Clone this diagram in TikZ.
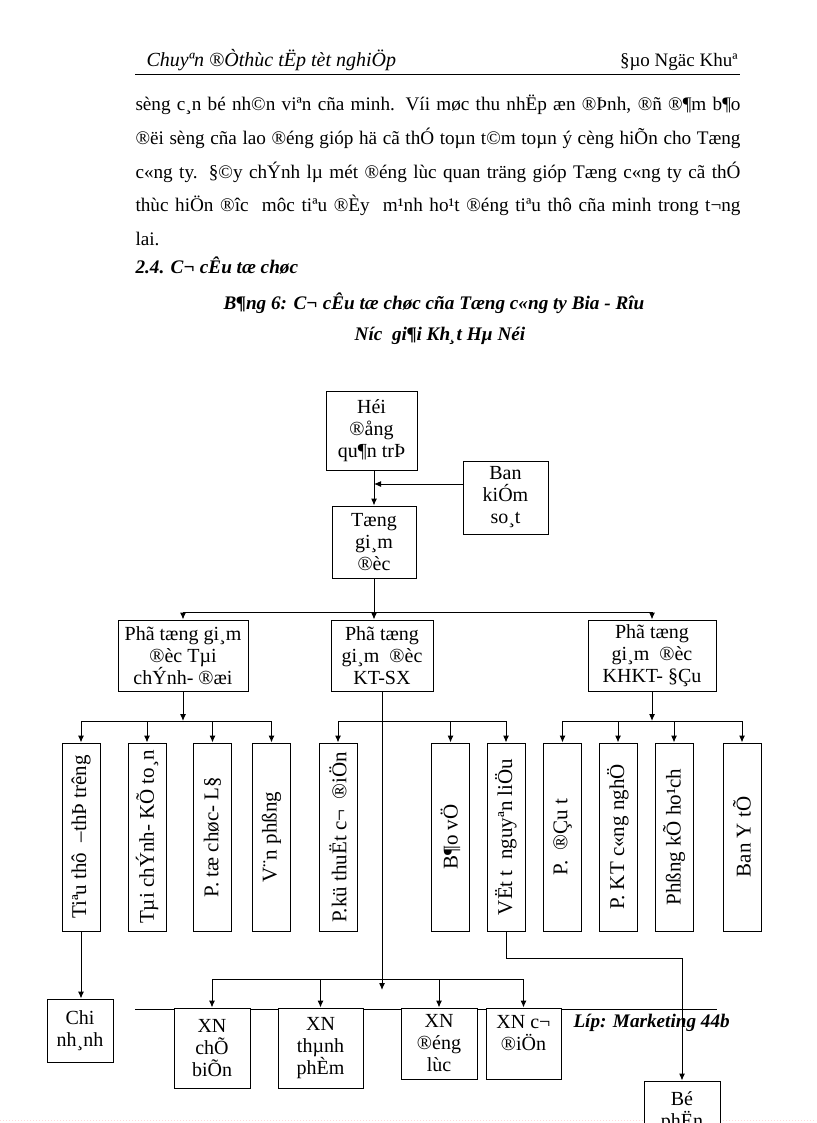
\documentclass[tikz,border=0pt]{standalone}
\usepackage{fontspec}
\setmainfont{Liberation Serif}
\usetikzlibrary{arrows.meta}
\newcommand\chuhop{\fontsize{20}{22}\selectfont}
\newcommand\chuvan{\fontsize{19.2}{34}\selectfont}
\tikzset{
  hop/.style={draw, fill=white, align=center, inner sep=0pt, font=\chuhop},
  dung/.style={hop, minimum width=38pt, minimum height=188pt, font=\fontsize{21}{22}\selectfont},
  van/.style={anchor=base west, inner sep=0pt, font=\chuvan},
  muiten/.style={-{Latex[length=7pt,width=6pt]}},
}
\begin{document}
\begin{tikzpicture}[x=1pt, y=-1pt, line width=1pt]
  \useasboundingbox (0,0) rectangle (816,1123);
  \clip (0,0) rectangle (816,1123);
  % dau trang
  \node[anchor=base west, inner sep=0pt, font=\fontsize{20}{22}\selectfont\itshape] (dau) at (146,67) {Chuyªn ®Òthùc tËp tèt nghiÖp};
  \node[anchor=base east, inner sep=0pt, font=\fontsize{19}{22}\selectfont] (tacgia) at (738,67) {§µo Ngäc Khuª};
  \draw[line width=0.6pt] (135,74) -- (740,74);
  % doan van
  \node[van] (d1) at (135,111) {\makebox[605pt][s]{sèng c¸n bé nh©n viªn cña minh. Víi møc thu nhËp æn ®Þnh, ®ñ ®¶m b¶o}};
  \node[van] (d2) at (135,145) {\makebox[605pt][s]{®ëi sèng cña lao ®éng gióp hä cã thÓ toµn t©m toµn ý cèng hiÕn cho Tæng}};
  \node[van] (d3) at (135,179) {\makebox[605pt][s]{c«ng ty. §©y chÝnh lµ mét ®éng lùc quan träng gióp Tæng c«ng ty cã thÓ}};
  \node[van] (d4) at (135,212) {\makebox[605pt][s]{thùc hiÖn ®îc \ môc tiªu ®Èy \ m¹nh ho¹t ®éng tiªu thô cña minh trong t¬ng}};
  \node[van] (d5) at (135,245) {lai.};
  \node[van, font=\chuvan\bfseries\itshape] (muc) at (135,273) {2.4. C¬ cÊu tæ chøc};
  \node[anchor=base, inner sep=0pt, font=\chuvan\bfseries\itshape] (bang1) at (434,309) {B¶ng 6: C¬ cÊu tæ chøc cña Tæng c«ng ty Bia - Rîu};
  \node[anchor=base, inner sep=0pt, font=\chuvan\bfseries\itshape] (bang2) at (440,340) {Níc \ gi¶i Kh¸t Hµ Néi};
  % chan trang
  \draw[line width=0.6pt] (135,1009) -- (717,1009);
  \node[anchor=base west, inner sep=0pt, font=\chuvan\bfseries\itshape] (lop) at (573,1027) {Líp: Marketing 44b};
  \draw[pink!60, dotted, line width=1pt] (0,1120) -- (816,1120);
  % cap tren
  \node[hop, minimum width=91pt, minimum height=79pt] (hdqt) at (371.5,430.5) {Héi\\®ång\\qu¶n trÞ};
  \node[hop, minimum width=85pt, minimum height=73pt] (bks) at (505.5,497.5) {Ban\\kiÓm\\so¸t};
  \node[hop, minimum width=84pt, minimum height=72pt] (tgd) at (374,542) {Tæng\\gi¸m\\®èc};
  \node[hop, minimum width=130pt, minimum height=71pt] (ptgd1) at (183,655.5) {Phã tæng gi¸m\\®èc Tµi\\chÝnh- ®æi};
  \node[hop, minimum width=102pt, minimum height=71pt] (ptgd2) at (382,655.5) {Phã tæng\\gi¸m \ ®èc\\KT-SX};
  \node[hop, minimum width=128pt, minimum height=71pt] (ptgd3) at (652,655.5) {Phã tæng\\gi¸m \ ®èc\\KHKT- §Çu};
  % cac phong ban
  \node[dung] (tt) at (81,837) {\rotatebox{90}{Tiªu thô \ –thÞ trêng}};
  \node[dung] (tc) at (147,837) {\rotatebox{90}{Tµi chÝnh- KÕ to¸n}};
  \node[dung] (tcld) at (212.5,837) {\rotatebox{90}{P. tæ chøc- L§}};
  \node[dung] (vp) at (271.5,837) {\rotatebox{90}{V¨n phßng}};
  \node[dung] (kt) at (338,837) {\rotatebox{90}{P.kü thuËt c¬ \ ®iÖn}};
  \node[dung] (bv) at (450.5,837) {\rotatebox{90}{B¶o vÖ}};
  \node[dung] (vt) at (506,837) {\rotatebox{90}{VËt t \ nguyªn liÖu}};
  \node[dung] (dt) at (562.5,837) {\rotatebox{90}{P. \ ®Çu t}};
  \node[dung] (ktcn) at (618,837) {\rotatebox{90}{P. KT c«ng nghÖ}};
  \node[dung] (kh) at (674,837) {\rotatebox{90}{Phßng kÕ ho¹ch}};
  \node[dung] (yt) at (742,837) {\rotatebox{90}{Ban Y tÕ}};
  % cap duoi
  \node[hop, minimum width=66pt, minimum height=63pt] (cn) at (80,1030.5) {Chi\\nh¸nh};
  \node[hop, minimum width=76pt, minimum height=80pt] (cb) at (212,1048) {XN\\chÕ\\biÕn};
  \node[hop, minimum width=85pt, minimum height=80pt] (tp) at (320.5,1048) {XN\\thµnh\\phÈm};
  \node[hop, minimum width=76pt, minimum height=71pt] (dl) at (439,1043.5) {XN\\®éng\\lùc};
  \node[hop, minimum width=75pt, minimum height=71pt] (cd) at (523.5,1043.5) {XN c¬\\®iÖn\\\mbox{}};
  \node[hop, minimum width=76pt, minimum height=79pt] (bp) at (682,1120.5) {Bé\\phËn\\\mbox{}};
  % duong noi
  \coordinate (ksvao) at (374,484);
  \coordinate (busA) at (374,612);
  \coordinate (busL) at (183,721);
  \coordinate (busM) at (382,721);
  \coordinate (busR) at (652,721);
  \coordinate (xnden) at (382,990);
  \coordinate (busX) at (382,979);
  \coordinate (vtre) at (506,958);
  \draw[muiten] (tgd.north |- hdqt.south) -- (tgd.north);
  \draw[muiten] (bks.west |- ksvao) -- (ksvao);
  \draw[muiten] (tgd.south) -- (tgd.south |- ptgd2.north);
  \draw (ptgd1.north |- busA) -- (ptgd3.north |- busA);
  \foreach \b in {ptgd1,ptgd3}
    \draw[muiten] (\b.north |- busA) -- (\b.north);
  \draw[muiten] (ptgd1.south) -- (busL);
  \draw (tt.north |- busL) -- (vp.north |- busL);
  \foreach \b in {tt,tc,tcld,vp}
    \draw[muiten] (\b.north |- busL) -- (\b.north);
  \draw (kt.north |- busM) -- (vt.north |- busM);
  \foreach \b in {kt,bv,vt}
    \draw[muiten] (\b.north |- busM) -- (\b.north);
  \draw[muiten] (ptgd3.south) -- (busR);
  \draw (dt.north |- busR) -- (yt.north |- busR);
  \foreach \b in {dt,ktcn,kh,yt}
    \draw[muiten] (\b.north |- busR) -- (\b.north);
  \draw[muiten] (ptgd2.south) -- (xnden);
  \draw (cb.north |- busX) -- (cd.north |- busX);
  \foreach \b in {cb,tp,dl,cd}
    \draw[muiten] (\b.north |- busX) -- (\b.north);
  \draw[muiten] (tt.south) -- (tt.south |- cn.north);
  \draw[muiten] (vt.south) -- (vtre) -| (bp.north);
\end{tikzpicture}
\end{document}
